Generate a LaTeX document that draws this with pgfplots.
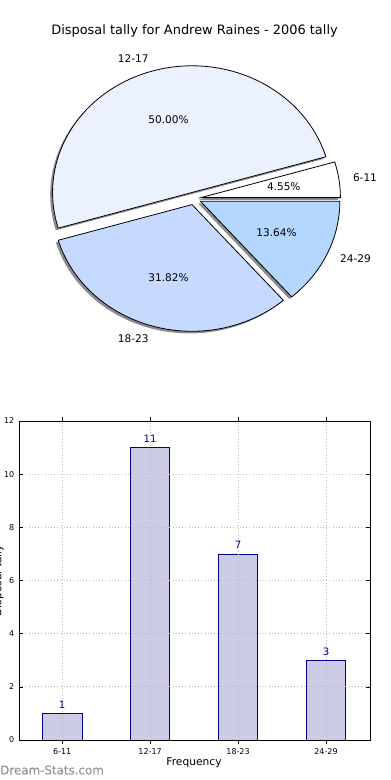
\documentclass[border=0pt]{standalone}
\usepackage{pgfplots}
\pgfplotsset{compat=1.18}
\usepackage{fontspec}
\setmainfont{DejaVu Sans}
\definecolor{cA}{RGB}{235,241,255}
\definecolor{cB}{RGB}{198,217,255}
\definecolor{cC}{RGB}{179,215,255}
\definecolor{barfill}{RGB}{204,204,230}
\definecolor{baredge}{RGB}{0,0,140}
\definecolor{wm}{RGB}{150,150,150}
\definecolor{shadowc}{RGB}{140,140,140}
\newcommand\pieslices{1/6-11/white,11/12-17/cA,7/18-23/cB,3/24-29/cC}
\newcommand\pietotal{22}
\begin{document}
\begin{tikzpicture}
\useasboundingbox (0,0) rectangle (292.5pt,-585pt);
% title
\node[font=\fontsize{9.7}{11}\selectfont] at (145.9pt,-22.9pt) {Disposal tally for Andrew Raines - 2006 tally};
% ---------- pie ----------
\begin{axis}[at={(145.5pt,-148.9pt)}, anchor=center, scale only axis,
  width=272pt, height=247pt,
  xmin=-1.3, xmax=1.3, ymin=-1.3, ymax=1.3, hide axis, clip=false]
\pgfplotsextra{
  % shadows
  \gdef\acc{0}
  \foreach \v/\lab/\col in \pieslices {
    \pgfmathsetmacro\a{\acc}
    \pgfmathsetmacro\b{\acc+360*\v/\pietotal}
    \pgfmathsetmacro\m{(\a+\b)/2}
    \pgfmathsetmacro\dx{0.05*cos(\m)-0.017}
    \pgfmathsetmacro\dy{0.05*sin(\m)-0.017}
    \fill[shadowc] (\dx,\dy) -- plot[domain=\a:\b, samples=80, variable=\t] ({\dx+cos(\t)},{\dy+sin(\t)}) -- cycle;
    \xdef\acc{\b}
  }
  % wedges and labels
  \gdef\acc{0}
  \foreach \v/\lab/\col in \pieslices {
    \pgfmathsetmacro\a{\acc}
    \pgfmathsetmacro\b{\acc+360*\v/\pietotal}
    \pgfmathsetmacro\m{(\a+\b)/2}
    \pgfmathsetmacro\dx{0.05*cos(\m)}
    \pgfmathsetmacro\dy{0.05*sin(\m)}
    \pgfmathsetmacro\cm{cos(\m)}
    \pgfmathsetmacro\pct{100*\v/\pietotal}
    \draw[fill=\col, line width=0.6pt, line join=miter] (\dx,\dy) -- plot[domain=\a:\b, samples=80, variable=\t] ({\dx+cos(\t)},{\dy+sin(\t)}) -- cycle;
    \ifdim\cm pt<0pt \def\anc{east}\else\def\anc{west}\fi
    \node[anchor=\anc, inner sep=0pt, font=\fontsize{7.9}{9}\selectfont] at ({1.15*cos(\m)},{1.15*sin(\m)}) {\lab};
    \node[inner sep=0pt, font=\fontsize{7.9}{9}\selectfont] at ({0.65*cos(\m)},{0.65*sin(\m)}) {\pgfmathprintnumber[fixed, fixed zerofill, precision=2, assume math mode=true]{\pct}\%};
    \xdef\acc{\b}
  }
}
\end{axis}
% ---------- bars ----------
\begin{axis}[at={(14.25pt,-555pt)}, anchor=south west, scale only axis,
  width=263.25pt, height=239.25pt,
  xmin=-0.49, xmax=3.5, ymin=0, ymax=12,
  xtick={0,1,2,3}, xticklabels={6-11,12-17,18-23,24-29},
  ytick={0,2,4,6,8,10,12},
  grid=major, major grid style={dotted, black!28, line width=0.6pt},
  tick align=inside, major tick length=3pt, tick style={black, line width=0.5pt},
  axis line style={line width=0.75pt}, axis on top,
  ticklabel style={font=\fontsize{6}{7}\selectfont},
  /pgf/number format/assume math mode=true,
  ybar, bar width=0.45,
  nodes near coords,
  every node near coord/.append style={font=\fontsize{7.6}{9}\selectfont, text=baredge, inner sep=0pt, yshift=3.5pt},
]
\addplot[fill=barfill, draw=baredge, line width=0.6pt] coordinates {(0,1) (1,11) (2,7) (3,3)};
\end{axis}
\node[font=\fontsize{8}{9}\selectfont] at (145.5pt,-572pt) {Frequency};
\node[rotate=90, anchor=base, font=\fontsize{8}{9}\selectfont] at (1pt,-435.4pt) {Disposal tally};
% watermark
\node[anchor=west, inner sep=0pt, text=wm, font=\fontsize{8.9}{10}\selectfont] at (0pt,-577.5pt) {\addfontfeature{FakeBold=0.6}Dream-Stats.com};
\end{tikzpicture}
\end{document}
